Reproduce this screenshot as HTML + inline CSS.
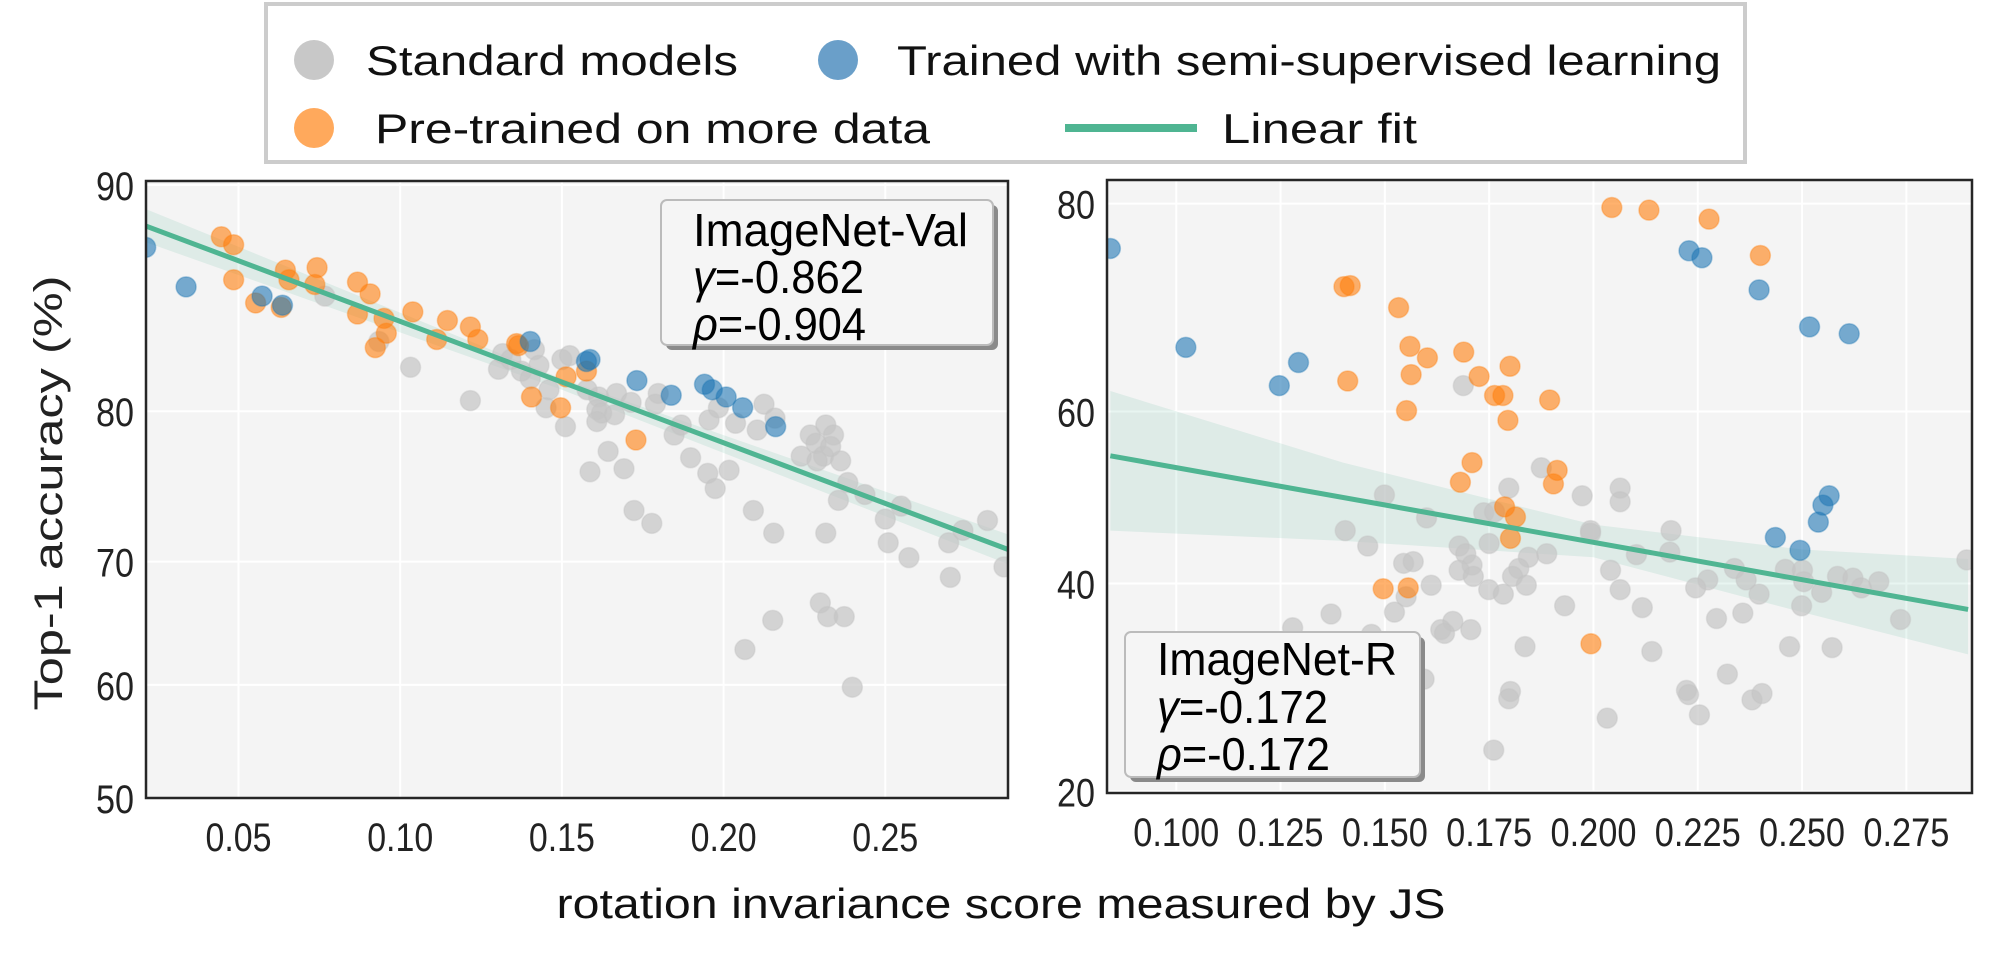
<!DOCTYPE html>
<html><head><meta charset="utf-8"><style>
html,body{margin:0;padding:0;background:#fff;}
svg{display:block;}
.tick{font-family:"Liberation Sans Narrow","Liberation Sans",sans-serif;font-size:40px;fill:#222;}
.leg{font-family:"Liberation Sans",sans-serif;font-size:42px;fill:#111;}
.ann{font-family:"Liberation Sans Narrow","Liberation Sans",sans-serif;font-size:46px;fill:#000;}
</style></head><body>
<svg id="chart" width="2007" height="962" viewBox="0 0 2007 962" xmlns="http://www.w3.org/2000/svg">
<g id="legend">
<rect x="266" y="4" width="1479" height="158" fill="#fff" stroke="#ccc" stroke-width="4"/>
<g><circle cx="314" cy="60" r="20" fill="#c8c8c8"/><text class="leg" x="366" y="75" textLength="372" lengthAdjust="spacingAndGlyphs">Standard models</text></g>
<g><circle cx="838" cy="60" r="20" fill="#6a9fc9"/><text class="leg" x="897" y="75" textLength="824" lengthAdjust="spacingAndGlyphs">Trained with semi-supervised learning</text></g>
<g><circle cx="314" cy="128" r="20" fill="#ffa95c"/><text class="leg" x="375" y="143" textLength="555" lengthAdjust="spacingAndGlyphs">Pre-trained on more data</text></g>
<g><line x1="1065" y1="128" x2="1197" y2="128" stroke="#4fb592" stroke-width="8"/><text class="leg" x="1222" y="143" textLength="195" lengthAdjust="spacingAndGlyphs">Linear fit</text></g>
</g>
<text x="62" y="493" transform="rotate(-90 62 493)" text-anchor="middle" style="font-family:'Liberation Sans',sans-serif;font-size:40px;fill:#222" textLength="435" lengthAdjust="spacingAndGlyphs">Top-1 accuracy (%)</text>
<text x="1001" y="918" text-anchor="middle" style="font-family:'Liberation Sans',sans-serif;font-size:42px;fill:#111" textLength="889" lengthAdjust="spacingAndGlyphs">rotation invariance score measured by JS</text>
<g id="left"></g>
<g id="right"></g>
</svg>
<script>
// ---------- Left panel (ImageNet-Val) ----------
const valXTicks=[0.05,0.10,0.15,0.20,0.25];
const valXTickLabels=["0.05","0.10","0.15","0.20","0.25"];
const valYTicks=[50,60,70,80,90];
const valYTickLabels=["50","60","70","80","90"];
const valStdX=[0.0767,0.0934,0.1032,0.1217,0.1317,0.1304,0.1342,0.1375,0.1402,0.1415,0.1429,0.146,0.1451,0.15,0.1524,0.1511,0.1578,0.1614,0.1608,0.1623,0.1608,0.1663,0.1669,0.1714,0.1587,0.1643,0.1692,0.1798,0.1789,0.1847,0.1869,0.1898,0.1951,0.1974,0.2017,0.1955,0.1984,0.2037,0.2104,0.2125,0.2159,0.2092,0.1778,0.1723,0.2155,0.224,0.2268,0.2286,0.2316,0.234,0.2309,0.2289,0.2362,0.2331,0.2384,0.2355,0.2437,0.2316,0.2549,0.25,0.2509,0.2573,0.2696,0.274,0.2816,0.2701,0.2867,0.2299,0.2322,0.2373,0.2152,0.2066,0.2398];
const valStdY=[85.8,83.7,82.4,80.6,83.1,82.3,82.8,82.2,81.8,83.3,82.5,81.2,80.2,82.8,83.0,79.1,81.2,80.8,80.1,79.9,79.4,79.8,81.0,80.5,76.3,77.6,76.5,81.0,80.4,78.6,79.2,77.2,76.2,75.2,76.4,79.5,80.2,79.3,78.9,80.4,79.6,73.7,72.8,73.7,72.1,77.3,78.6,78.1,79.2,78.6,77.3,77.0,77.0,77.9,75.6,74.4,74.8,72.1,74.0,73.1,71.4,70.3,71.4,72.3,73.0,68.8,69.6,66.8,65.7,65.7,65.4,63.0,59.8];
const valPreX=[0.0447,0.0485,0.0485,0.0645,0.0656,0.0743,0.0736,0.0553,0.0632,0.0868,0.0907,0.0868,0.095,0.0957,0.0923,0.1039,0.1146,0.1217,0.124,0.1113,0.136,0.1366,0.1406,0.1513,0.1496,0.1576,0.1729];
const valPreY=[88.2,87.9,86.5,86.9,86.5,87.0,86.3,85.5,85.3,86.4,85.9,85.0,84.8,84.1,83.4,85.1,84.7,84.4,83.8,83.8,83.6,83.5,80.8,81.9,80.2,82.2,78.3];
const valSemiX=[0.0213,0.0338,0.0573,0.0636,0.1402,0.1576,0.1587,0.1732,0.1838,0.1941,0.1965,0.2008,0.2059,0.2161];
const valSemiY=[87.8,86.2,85.8,85.4,83.7,82.7,82.8,81.7,80.9,81.5,81.2,80.8,80.2,79.1];
const valFitX=[0.0213,0.15,0.288];
const valFitY=[88.6,81.5,70.9];
const valFitHi=[89.2,81.8,72.0];
const valFitLo=[88.0,81.2,69.8];

// ---------- Right panel (ImageNet-R) ----------
const rXTicks=[0.100,0.125,0.150,0.175,0.200,0.225,0.250,0.275];
const rXTickLabels=["0.100","0.125","0.150","0.175","0.200","0.225","0.250","0.275"];
const rYTicks=[20,40,60,80];
const rYTickLabels=["20","40","60","80"];
const rStdX=[0.1688,0.1875,0.1797,0.2064,0.2064,0.1973,0.1499,0.1737,0.1763,0.16,0.1405,0.1993,0.1993,0.2186,0.1459,0.175,0.1678,0.1694,0.1888,0.2103,0.2183,0.1844,0.1545,0.1568,0.1709,0.1678,0.1821,0.2041,0.2338,0.246,0.2501,0.1712,0.1806,0.2274,0.2366,0.2585,0.2622,0.2684,0.2504,0.2642,0.1611,0.1839,0.2245,0.1749,0.2064,0.2547,0.2397,0.1784,0.1551,0.2895,0.1931,0.2117,0.2499,0.1371,0.1523,0.2358,0.2295,0.1663,0.1634,0.1706,0.1643,0.2736,0.1279,0.1468,0.1836,0.214,0.247,0.2572,0.2321,0.1594,0.1801,0.1797,0.2223,0.2228,0.238,0.2404,0.2254,0.2033,0.1761];
const rStdY=[62.9,53.5,51.1,51.1,49.5,50.2,50.3,48.2,48.3,47.6,46.1,46.1,45.8,46.1,44.3,44.6,44.3,43.4,43.4,43.3,43.6,43.0,42.3,42.5,42.1,41.5,41.7,41.5,41.7,41.6,41.5,40.8,40.8,40.4,40.4,40.8,40.6,40.2,40.2,39.5,39.8,39.8,39.5,39.3,39.3,39.0,38.8,38.8,38.5,42.7,37.5,37.3,37.5,36.6,36.8,36.7,36.1,35.8,34.9,34.9,34.5,36.0,35.1,34.4,33.1,32.6,33.1,33.0,30.3,29.8,28.6,27.9,28.7,28.3,27.8,28.4,26.4,26.1,23.3];
const rPreX=[0.2044,0.2133,0.2277,0.240,0.1402,0.1417,0.1533,0.156,0.1602,0.1689,0.180,0.1563,0.1726,0.1411,0.1763,0.1783,0.1895,0.1552,0.1795,0.1709,0.1913,0.1904,0.1681,0.1787,0.1813,0.1801,0.1496,0.1556,0.1994];
const rPreY=[79.7,79.5,78.8,75.8,73.0,73.1,71.0,67.1,65.9,66.5,65.0,64.1,63.9,63.4,61.8,61.8,61.3,60.1,59.0,54.1,53.2,51.6,51.8,48.9,47.7,45.2,39.4,39.5,33.4];
const rSemiX=[0.0842,0.1023,0.1293,0.1247,0.2229,0.226,0.2397,0.2518,0.2613,0.2565,0.255,0.2539,0.2436,0.2495];
const rSemiY=[76.4,67.0,65.4,62.9,76.2,75.6,72.7,69.1,68.4,50.2,49.1,47.1,45.3,43.8];
const rFitX=[0.0842,0.14,0.20,0.25,0.2898];
const rFitY=[54.9,48.6,44.7,40.4,37.1];
const rFitHi=[62.3,54.1,46.8,43.9,42.8];
const rFitLo=[46.1,44.9,43.0,36.8,32.3];

const NS="http://www.w3.org/2000/svg";
function mk(parent,tag,attrs){const e=document.createElementNS(NS,tag);for(const k in attrs)e.setAttribute(k,attrs[k]);parent.appendChild(e);return e;}
function logit(a){const p=a/100;return Math.log(p/(1-p));}

function panel(g,cfg){
  const sx=x=>cfg.x0+(x-cfg.xmin)*cfg.kx;
  const sy=a=>cfg.y50-cfg.ky*logit(a);
  const bg=mk(g,'rect',{x:cfg.L,y:cfg.T,width:cfg.R-cfg.L,height:cfg.B-cfg.T,fill:'#f4f4f4'});
  
  
  cfg.xt.forEach((t,i)=>{
    const X=sx(t);
    const gl=mk(g,'line',{x1:X,x2:X,y1:cfg.T,y2:cfg.B,stroke:'#fff','stroke-width':2});
    
    
    const tx=mk(g,'text',{x:X,y:cfg.B+53,'text-anchor':'middle',class:'tick',textLength:cfg.xw,lengthAdjust:'spacingAndGlyphs'});
    tx.textContent=cfg.xl[i];
    
    
  });
  cfg.yt.forEach((t,i)=>{
    const Y=sy(t);
    const gl=mk(g,'line',{x1:cfg.L,x2:cfg.R,y1:Y,y2:Y,stroke:'#fff','stroke-width':2});
    
    
    const tx=mk(g,'text',{x:cfg.L-12,y:Y+15,'text-anchor':'end',class:'tick',textLength:38,lengthAdjust:'spacingAndGlyphs'});
    tx.textContent=cfg.yl[i];
    
    
  });
  const clipId='clip'+cfg.id;
  const cp=mk(mk(g,'defs',{}),'clipPath',{id:clipId});
  mk(cp,'rect',{x:cfg.L,y:cfg.T,width:cfg.R-cfg.L,height:cfg.B-cfg.T});
  const cg=mk(g,'g',{'clip-path':'url(#'+clipId+')'});
  let pts=[];
  cfg.fx.forEach((x,i)=>pts.push(sx(x)+','+sy(cfg.fh[i])));
  for(let i=cfg.fx.length-1;i>=0;i--)pts.push(sx(cfg.fx[i])+','+sy(cfg.fl[i]));
  const band=mk(cg,'polygon',{points:pts.join(' '),fill:'#4fb592','fill-opacity':0.13,'stroke-linejoin':'round'});
  
  
  const series=[[cfg.sX,cfg.sY,'#c4c4c4',0.7,'standard-model-point'],[cfg.pX,cfg.pY,'#ff7f0e',0.6,'pretrained-model-point'],[cfg.bX,cfg.bY,'#1f77b4',0.6,'semi-supervised-point']];
  series.forEach(s=>{
    s[0].forEach((x,i)=>{
      const c=mk(cg,'circle',{cx:sx(x),cy:sy(s[1][i]),r:10,fill:s[2],'fill-opacity':s[3],stroke:s[2],'stroke-opacity':s[3]*0.6,'stroke-width':1.5});
      
      
    });
  });
  const n=cfg.fx.length-1;
  const fl=mk(cg,'line',{x1:sx(cfg.fx[0]),y1:sy(cfg.fy[0]),x2:sx(cfg.fx[n]),y2:sy(cfg.fy[n]),stroke:'#4fb592','stroke-width':5});
  
  
  const fr=mk(g,'rect',{x:cfg.L,y:cfg.T,width:cfg.R-cfg.L,height:cfg.B-cfg.T,fill:'none',stroke:'#262626','stroke-width':2.5});
  
  
  const a=cfg.ann;
  const ag=mk(g,'g',{});
  
  
  mk(ag,'rect',{x:a.x+5,y:a.y+5,width:a.w,height:a.h,rx:6,fill:'#8a8a8a'});
  mk(ag,'rect',{x:a.x,y:a.y,width:a.w,height:a.h,rx:6,fill:'#f5f5f5',stroke:'#bbb','stroke-width':2});
  const t1=mk(ag,'text',{x:a.tx,y:a.b[0],class:'ann',textLength:a.w1,lengthAdjust:'spacingAndGlyphs'});t1.textContent=a.title;
  const t2=mk(ag,'text',{x:a.tx,y:a.b[1],class:'ann',textLength:171,lengthAdjust:'spacingAndGlyphs'});t2.innerHTML='<tspan font-style="italic">γ</tspan>='+a.g;
  const t3=mk(ag,'text',{x:a.tx,y:a.b[2],class:'ann',textLength:173,lengthAdjust:'spacingAndGlyphs'});t3.innerHTML='<tspan font-style="italic">ρ</tspan>='+a.r;
}

panel(document.getElementById('left'),{id:'L',L:146,R:1008,T:181,B:798,x0:146,xmin:0.0214,kx:3234,y50:798,ky:279,xw:66,
  xt:valXTicks,xl:valXTickLabels,yt:valYTicks,yl:valYTickLabels,
  sX:valStdX,sY:valStdY,pX:valPreX,pY:valPreY,bX:valSemiX,bY:valSemiY,
  fx:valFitX,fy:valFitY,fh:valFitHi,fl:valFitLo,
  ann:{x:661,y:200,w:332,h:145,tx:693,w1:275,b:[246,293,340],title:'ImageNet-Val',g:'-0.862',r:'-0.904'}});
panel(document.getElementById('right'),{id:'R',L:1107,R:1972,T:180,B:793,x0:1107,xmin:0.0834,kx:4172,y50:497.5,ky:212,xw:86,
  xt:rXTicks,xl:rXTickLabels,yt:rYTicks,yl:rYTickLabels,
  sX:rStdX,sY:rStdY,pX:rPreX,pY:rPreY,bX:rSemiX,bY:rSemiY,
  fx:rFitX,fy:rFitY,fh:rFitHi,fl:rFitLo,
  ann:{x:1125,y:632,w:295,h:145,tx:1157,w1:240,b:[675,723,770],title:'ImageNet-R',g:'-0.172',r:'-0.172'}});
</script>
</body></html>
